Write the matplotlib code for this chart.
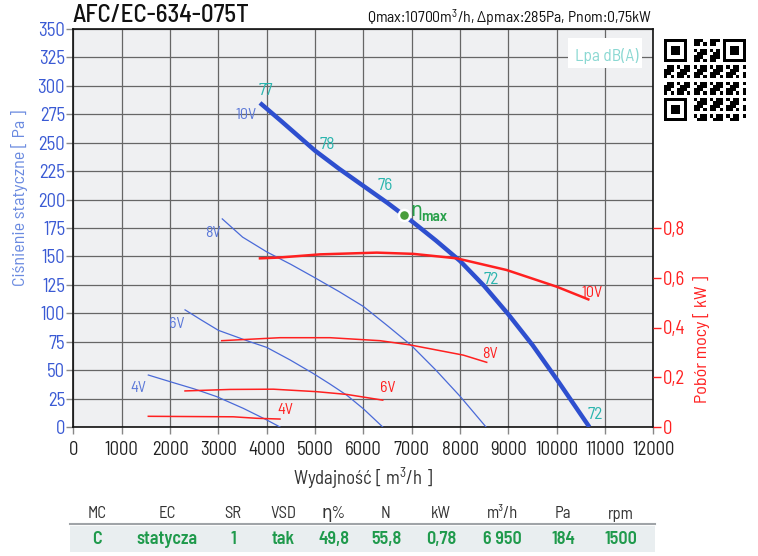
import matplotlib
matplotlib.use("Agg")
import matplotlib.pyplot as plt
from matplotlib.patches import Rectangle
import numpy as np

plt.rcParams['font.family'] = ['Barlow Semi Condensed', 'DejaVu Sans']
plt.rcParams['mathtext.fontset'] = 'custom'
plt.rcParams['mathtext.rm'] = 'Barlow Semi Condensed'
plt.rcParams['mathtext.it'] = 'Barlow Semi Condensed'
plt.rcParams['mathtext.bf'] = 'Barlow Semi Condensed:bold'

# ---------------- data ----------------
# 10V pressure curve (m3/h, Pa)
q10 = [3860, 4300, 5000, 5500, 6000, 6500, 7000, 7500, 8000, 8500, 9000, 9500, 10000, 10675]
p10 = [285, 269, 243, 227, 212, 197, 181, 164, 146, 124, 99, 72, 42, 0]
# 8V
q8 = [3080, 3500, 4000, 4500, 4965, 5500, 6000, 6500, 6985, 7500, 8000, 8537]
p8 = [183, 167, 154, 143, 132, 119, 106, 89, 72, 50, 27, 0]
# 6V
q6 = [2310, 2650, 3000, 3650, 4000, 4482, 4965, 5300, 5655, 6000, 6400]
p6 = [103, 94, 85, 75, 70, 59, 47, 38, 28, 16, 0]
# 4V
q4 = [1550, 2067, 2500, 2965, 3515, 4000, 4274]
p4 = [45.7, 39, 33.5, 26.7, 16.4, 6.2, 0]

# power curves (m3/h, kW)
qn10 = [3860, 4240, 5100, 6275, 7033, 7931, 8965, 10000, 10654]
n10 = [0.678, 0.681, 0.694, 0.701, 0.696, 0.678, 0.631, 0.564, 0.513]
qn8 = [3068, 4275, 5309, 6344, 6965, 8067, 8551]
n8 = [0.347, 0.359, 0.359, 0.347, 0.330, 0.289, 0.260]
qn6 = [2309, 3240, 4136, 5034, 5655, 6400]
n6 = [0.145, 0.151, 0.152, 0.142, 0.131, 0.108]
qn4 = [1550, 3309, 3792, 4274]
n4 = [0.043, 0.041, 0.035, 0.032]

# sound level labels on the 10V curve
lpa_q = [3970, 5250, 6450, 8650, 10800]
lpa_p = [296, 248, 212, 130, 11]
lpa_txt = ["77", "78", "76", "72", "72"]

eta_q, eta_p = 6850, 186

x_ticks = list(range(0, 13000, 1000))
y_ticks = list(range(0, 351, 25))
kw_ticks = [0, 0.2, 0.4, 0.6, 0.8]
kw_labels = ["0", "0,2", "0,4", "0,6", "0,8"]

tbl_head = ["MC", "EC", "SR", "VSD", "η%", "N", "kW", "m³/h", "Pa", "rpm"]
tbl_vals = ["C", "statycza", "1", "tak", "49,8", "55,8", "0,78", "6 950", "184", "1500"]

# ---------------- figure ----------------
W, H = 758, 556
fig = plt.figure(figsize=(W / 100, H / 100), dpi=100)
L, R, T, B = 73.4, 653.4, 29, 427
ax = fig.add_axes([L / W, 1 - B / H, (R - L) / W, (B - T) / H])
ax.set_facecolor('#eff0f2')
ax.set_xlim(0, 12000)
ax.set_ylim(0, 350)
ax.set_xticks(x_ticks)
ax.set_yticks(y_ticks)
ax.grid(True, color='#666666', lw=0.9)
ax.set_axisbelow(True)

blue_t = '#3a5ad4'
red = '#ff2020'
ax.tick_params(axis='y', colors='#888888', labelcolor=blue_t, labelsize=13.5, length=5, width=1, pad=1)
ax.tick_params(axis='x', colors='#888888', labelcolor='#222222', labelsize=13.5, length=5, width=1, pad=5)
for s in ['left', 'bottom', 'top', 'right']:
    ax.spines[s].set_color('#111111')
    ax.spines[s].set_linewidth(1.2)

ax.set_xticklabels([str(v) for v in x_ticks])

ax.set_ylabel("Ciśnienie statyczne [ Pa ]", color='#6a8ae0', fontsize=13)
ax.yaxis.set_label_coords(-0.078, 0.575)
ax.set_xlabel("Wydajność [ m$^3$/h ]", color='#333333', fontsize=13.5)
ax.xaxis.set_label_coords(0.5, -0.098)

# pressure curves
ax.plot(q10, p10, color='#2e4fcf', lw=3.2, solid_capstyle='butt', zorder=4)
for q, p in [(q8, p8), (q6, p6), (q4, p4)]:
    ax.plot(q, p, color='#4a6ad8', lw=0.9, zorder=3)

# power axis
ax2 = ax.twinx()
ax2.set_ylim(0, 1.6)
ax2.set_yticks(kw_ticks)
ax2.set_yticklabels(kw_labels)
ax2.tick_params(axis='y', colors=red, labelcolor=red, labelsize=13.5, length=6, width=1, pad=1)
for s in ax2.spines.values():
    s.set_visible(False)
ax2.set_ylabel("Pobór mocy [ kW ]", color=red, fontsize=13)
ax2.yaxis.set_label_coords(1.068, 0.22)
ax2.plot(qn10, n10, color=red, lw=1.8, zorder=3)
for q, n in [(qn8, n8), (qn6, n6), (qn4, n4)]:
    ax2.plot(q, n, color=red, lw=1.1, zorder=3)

# voltage labels
blab = '#5b78d8'
ax.text(3800, p10[0] - 11, "10V", color=blab, fontsize=11.5, ha='right', va='center')
ax.text(3050, p8[0] - 12, "8V", color=blab, fontsize=11.5, ha='right', va='center')
ax.text(2300, p6[0] - 12, "6V", color=blab, fontsize=11.5, ha='right', va='center')
ax.text(1520, p4[0] - 11, "4V", color=blab, fontsize=11.5, ha='right', va='center')
ax2.text(qn10[-1] - 150, n10[-1] + 0.025, "10V", color=red, fontsize=11.5, ha='left', va='center')
ax2.text(qn8[-1] - 100, n8[-1] + 0.035, "8V", color=red, fontsize=11.5, ha='left', va='center')
ax2.text(qn6[-1] - 50, n6[-1] + 0.05, "6V", color=red, fontsize=11.5, ha='left', va='center')
ax2.text(qn4[-1] - 50, n4[-1] + 0.035, "4V", color=red, fontsize=11.5, ha='left', va='center')

teal = '#2bb5ae'
for q, p, t in zip(lpa_q, lpa_p, lpa_txt):
    ax.text(q, p, t, color=teal, fontsize=12.5, ha='center', va='center', zorder=6)

# eta max
ax.plot([eta_q], [eta_p], 'o', ms=8, color='#4a9e3c', mec='white', mew=1.8, zorder=7)
ax.text(eta_q + 120, eta_p + 4, "η", color='#27a04a', fontsize=13.5,
        ha='left', va='center', zorder=7, fontweight='medium')
ax.text(eta_q + 340, eta_p - 1.5, "max", color='#27a04a', fontsize=11,
        ha='left', va='center', zorder=7, fontweight='semibold')

# Lpa box
fig.patches.append(Rectangle((568 / W, 1 - 68 / H), 74 / W, 30 / H, transform=fig.transFigure,
                             facecolor='white', edgecolor='none', zorder=5))
fig.text(607 / W, 1 - 56 / H, "Lpa dB(A)", color='#8ad8d2', fontsize=12.5, ha='center', va='center', zorder=6)

# title and subtitle
fig.text(72 / W, 1 - 16 / H, "AFC/EC-634-075T", fontsize=18, color='#111111', ha='left', va='center',
         fontweight='medium')
fig.text(652 / W, 1 - 18 / H, "Qmax:10700m$^3$/h, Δpmax:285Pa, Pnom:0,75kW", fontsize=11.3,
         color='#111111', ha='right', va='center')

# QR-like decoration
qa = fig.add_axes([664 / W, 1 - 121 / H, 82 / W, 82 / H])
qa.set_xlim(0, 25)
qa.set_ylim(25, 0)
qa.axis('off')
mods = np.zeros((25, 25), dtype=int)
for i in range(25):
    for j in range(25):
        mods[i, j] = 1 if ((i * 7 + j * 13 + i * j) % 5 in (0, 2, 3)) else 0
def finder(r, c):
    mods[r:r + 7, c:c + 7] = 1
    mods[r + 1:r + 6, c + 1:c + 6] = 0
    mods[r + 2:r + 5, c + 2:c + 5] = 1
for rr, cc in [(0, 0), (0, 18), (18, 0)]:
    mods[max(rr - 1, 0):rr + 8, max(cc - 1, 0):cc + 8] = 0
    finder(rr, cc)
qa.imshow(mods, cmap='Greys', vmin=0, vmax=1, extent=(0, 25, 25, 0), interpolation='nearest')

# table
cols_x = [97, 167, 233, 283, 334, 386, 441, 502, 563, 621]
fig.patches.append(Rectangle((70 / W, 1 - 552 / H), 585 / W, 26 / H, transform=fig.transFigure,
                             facecolor='#e9eef0', edgecolor='none'))
fig.lines.append(plt.Line2D([70 / W, 655 / W], [1 - 524 / H, 1 - 524 / H], transform=fig.transFigure,
                            color='#a0a4a8', lw=1.5))
for x, h, v in zip(cols_x, tbl_head, tbl_vals):
    fig.text(x / W, 1 - 514 / H, h, fontsize=12, color='#333333', ha='center', va='center')
    fig.text(x / W, 1 - 539 / H, v, fontsize=13, color='#1f9a4c', ha='center', va='center', fontweight='semibold')

fig.savefig("out.png", dpi=100)
